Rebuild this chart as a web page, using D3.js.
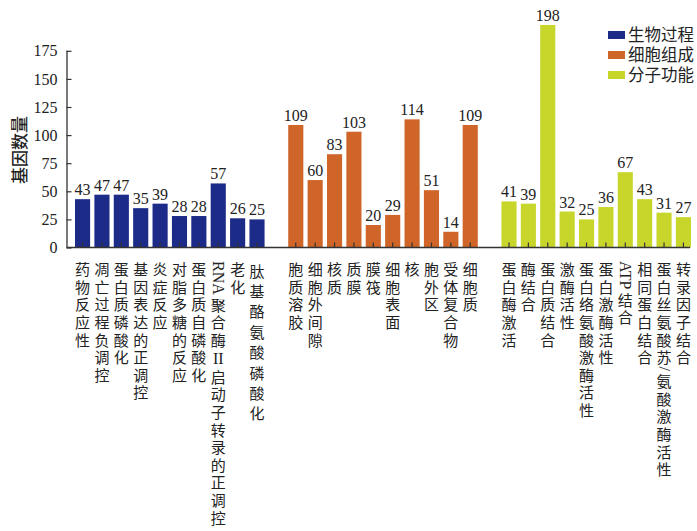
<!DOCTYPE html>
<html>
<head>
<meta charset="utf-8">
<script src="https://cdn.jsdelivr.net/npm/d3@7"></script>
<style>
  html, body { margin: 0; padding: 0; background: #fff; }
  svg { display: block; }
</style>
</head>
<body>
<svg id="chart" width="697" height="531"></svg>
<script>
// GO enrichment: gene counts per term, grouped by ontology
const groups = ["生物过程", "细胞组成", "分子功能"];
const groupColors = ["#1c2a88", "#d0652a", "#c8d62c"];

const bpTerms = ["药物反应性", "凋亡过程负调控", "蛋白质磷酸化", "基因表达的正调控", "炎症反应",
  "对脂多糖的反应", "蛋白质自磷酸化", "RNA聚合酶Ⅱ启动子转录的正调控", "老化", "肽基酪氨酸磷酸化"];
const bpCounts = [43, 47, 47, 35, 39, 28, 28, 57, 26, 25];

const ccTerms = ["胞质溶胶", "细胞外间隙", "核质", "质膜", "膜筏", "细胞表面", "核", "胞外区",
  "受体复合物", "细胞质"];
const ccCounts = [109, 60, 83, 103, 20, 29, 114, 51, 14, 109];

const mfTerms = ["蛋白酶激活", "酶结合", "蛋白质结合", "激酶活性", "蛋白络氨酸激酶活性", "蛋白激酶活性",
  "ATP结合", "相同蛋白结合", "蛋白丝氨酸苏/氨酸激酶活性", "转录因子结合"];
const mfCounts = [41, 39, 198, 32, 25, 36, 67, 43, 31, 27];

const yTicks = [0, 25, 50, 75, 100, 125, 150, 175];
const yTitle = "基因数量";

// flatten into rows, leaving an empty slot between groups
const termLists = [bpTerms, ccTerms, mfTerms];
const countLists = [bpCounts, ccCounts, mfCounts];
const rows = [];
const slots = [];
termLists.forEach((terms, g) => {
  terms.forEach((t, i) => {
    const key = g + ":" + i;
    rows.push({ key, term: t, value: countLists[g][i], group: g });
    slots.push(key);
  });
  if (g < termLists.length - 1) slots.push("gap" + g);
});

const svg = d3.select("#chart");
const serif = "'Liberation Serif', 'Times New Roman', serif";
const cjk = "'Noto Sans CJK SC', sans-serif";
// CJK glyphs fall back from a compact Latin face so each stacked cell keeps a tight line box
const cjkStack = "'Liberation Serif', 'Noto Sans CJK SC', sans-serif";

const x0 = 66.5, x1 = 690, yBase = 247.5;
const x = d3.scaleBand().domain(slots).range([75, 691]).paddingInner(0.22).paddingOuter(0);
const y = d3.scaleLinear().domain([0, 175]).range([yBase, yBase - 175 * 1.124]);
const cx = d => x(d.key) + x.bandwidth() / 2;

// bars
svg.append("g").selectAll("rect").data(rows).join("rect")
  .attr("x", d => x(d.key))
  .attr("width", x.bandwidth())
  .attr("y", d => y(d.value))
  .attr("height", d => y(0) - y(d.value))
  .attr("fill", d => groupColors[d.group]);

// value labels
svg.append("g").selectAll("text").data(rows).join("text")
  .attr("x", cx)
  .attr("y", d => y(d.value) - 4)
  .attr("text-anchor", "middle")
  .attr("font-family", serif)
  .attr("font-size", 16)
  .attr("fill", "#222")
  .text(d => d.value);

// y axis with inward ticks
const yAxis = svg.append("g")
  .attr("transform", `translate(${x0},0)`)
  .call(d3.axisLeft(y).tickValues(yTicks).tickSize(-5).tickPadding(9).tickSizeOuter(0));
yAxis.select(".domain").attr("stroke", "#333").attr("stroke-width", 1.3)
  .attr("d", `M0.5,${y(0)}V${y(175)}`);
yAxis.selectAll(".tick line").attr("stroke", "#333").attr("stroke-width", 1.2);
yAxis.selectAll(".tick text").attr("font-family", serif).attr("font-size", 16).attr("fill", "#222");

// x baseline and category ticks pointing up into the bars
svg.append("line")
  .attr("x1", x0).attr("x2", x1).attr("y1", yBase).attr("y2", yBase)
  .attr("stroke", "#333").attr("stroke-width", 1.6);
svg.append("g").selectAll("line").data(rows).join("line")
  .attr("x1", cx).attr("x2", cx)
  .attr("y1", yBase).attr("y2", yBase - 5)
  .attr("stroke", "#333").attr("stroke-width", 1.2);

// vertical category labels: CJK glyphs stacked upright, Latin runs turned sideways
const labelTop = 261;
const labels = svg.append("g").attr("fill", "#222");
rows.forEach(d => {
  const pitch = d.term === "肽基酪氨酸磷酸化" ? 20.4 : 17.6;
  const runs = d.term.match(/[A-Za-z\/]+|./g);
  let pos = labelTop;
  const g = labels.append("g").attr("transform", `translate(${cx(d)},0)`);
  runs.forEach(r => {
    if (/^[A-Za-z\/]+$/.test(r)) {
      const t = g.append("text")
        .attr("transform", `translate(0,${pos}) rotate(90)`)
        .attr("dy", "0.33em")
        .attr("font-family", /^[A-Za-z]+$/.test(r) ? serif : cjkStack)
        .attr("font-size", 16)
        .text(r);
      pos += t.node().getComputedTextLength() + 2;
    } else {
      const upright = r === "Ⅱ";
      g.append("text")
        .attr("y", pos + pitch / 2 + 5.3)
        .attr("text-anchor", "middle")
        .attr("font-family", upright ? serif : cjkStack)
        .attr("font-size", upright ? 16 : 15)
        .text(upright ? "II" : r);
      pos += upright ? pitch + 1.5 : pitch;
    }
  });
});

// y axis title
svg.append("text")
  .attr("transform", "translate(26,150) rotate(-90)")
  .attr("text-anchor", "middle")
  .attr("font-family", cjk)
  .attr("font-size", 17)
  .attr("font-weight", 500)
  .attr("fill", "#222")
  .text(yTitle);

// legend
const legend = svg.append("g").selectAll("g").data(groups).join("g")
  .attr("transform", (d, i) => `translate(608,${35 + i * 20})`);
legend.append("rect")
  .attr("x", 0).attr("y", -4).attr("width", 17).attr("height", 8)
  .attr("fill", (d, i) => groupColors[i]);
legend.append("text")
  .attr("x", 20).attr("y", 0).attr("dy", "0.36em")
  .attr("font-family", cjkStack).attr("font-size", 16.5).attr("fill", "#222")
  .text(d => d);
</script>
</body>
</html>
